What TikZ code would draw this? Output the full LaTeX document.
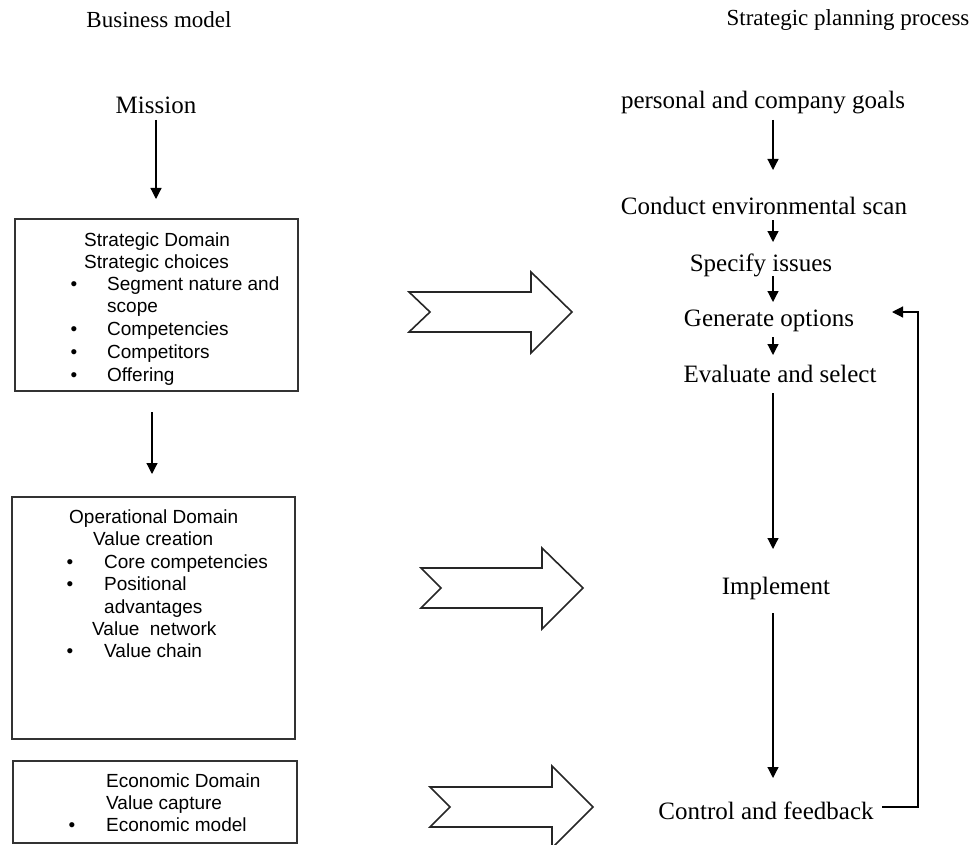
\documentclass[tikz,border=0pt]{standalone}
\usepackage{fontspec}
\setmainfont{Liberation Serif}
\newfontfamily\sansf{Liberation Sans}
\usetikzlibrary{arrows.meta}
\begin{document}
\begin{tikzpicture}[x=1pt,y=-1pt,
  serif/.style={font=\fontsize{25}{30}\selectfont, inner sep=0pt, outer sep=0pt, text height=20pt, text depth=2pt},
  headtxt/.style={font=\fontsize{23}{27}\selectfont, inner sep=0pt},
  sans/.style={font=\sansf\fontsize{19}{22}\selectfont, inner sep=0pt, anchor=base west},
  bul/.style={font=\sansf\fontsize{19}{22}\selectfont, inner sep=0pt, anchor=base},
  boxnode/.style={draw=black!80, line width=1.8pt, inner sep=0pt, outer sep=0pt, anchor=north west},
  arr/.style={line width=1.2pt, -{Triangle[length=11pt,width=11pt]}},
  bigarrow/.style={draw=black!85, line width=1.6pt, line join=miter, fill=white}
]
\useasboundingbox (0,0) rectangle (971,845);

% headings
\node[headtxt] (bm) at (159,20) {Business model};
\node[headtxt] (spp) at (848,20) {Strategic planning process};

% left column
\node[serif] (mis) at (156,105) {Mission};
\node[boxnode, minimum width=283pt, minimum height=172pt] (b1) at (15,219) {};
\node[boxnode, minimum width=283pt, minimum height=242pt] (b2) at (12,497) {};
\node[boxnode, minimum width=284pt, minimum height=82pt] (b3) at (13,761) {};

% box 1 text
\node[sans] (t11) at (84,246) {Strategic Domain};
\node[sans] (t12) at (84,268) {Strategic choices};
\node[bul]  (u13) at (74,290) {\textbullet};
\node[sans] (t13) at (107,290) {Segment nature and};
\node[sans] (t14) at (107,312.5) {scope};
\node[bul]  (u15) at (74,335) {\textbullet};
\node[sans] (t15) at (107,335) {Competencies};
\node[bul]  (u16) at (74,358) {\textbullet};
\node[sans] (t16) at (107,358) {Competitors};
\node[bul]  (u17) at (74,381) {\textbullet};
\node[sans] (t17) at (107,381) {Offering};

% box 2 text
\node[sans] (t21) at (69,523) {Operational Domain};
\node[sans] (t22) at (93,545) {Value creation};
\node[bul]  (u23) at (70,568) {\textbullet};
\node[sans] (t23) at (104,568) {Core competencies};
\node[bul]  (u24) at (70,590.5) {\textbullet};
\node[sans] (t24) at (104,590.5) {Positional};
\node[sans] (t25) at (104,613) {advantages};
\node[sans] (t26) at (92,635) {Value\ \ network};
\node[bul]  (u27) at (70,657) {\textbullet};
\node[sans] (t27) at (104,657) {Value chain};

% box 3 text
\node[sans] (t31) at (106,787) {Economic Domain};
\node[sans] (t32) at (106,809) {Value capture};
\node[bul]  (u33) at (72,831) {\textbullet};
\node[sans] (t33) at (106,831) {Economic model};

% left arrows
\coordinate (lx) at (152,0);
\draw[arr, shorten <=4pt, shorten >=20pt] (mis.south) -- (mis.south |- b1.north);
\draw[arr, shorten <=21pt, shorten >=23pt] (lx |- b1.south) -- (lx |- b2.north);

% big arrows
\draw[bigarrow] (409,292) -- (531,292) -- (531,272) -- (572,312) -- (531,353) -- (531,332) -- (409,332) -- (430,312) -- cycle;
\draw[bigarrow] (421,568) -- (542,568) -- (542,548) -- (583,588) -- (542,629) -- (542,608) -- (421,608) -- (441,588) -- cycle;
\draw[bigarrow] (430,787) -- (552,787) -- (552,766) -- (593,807) -- (552,848) -- (552,827) -- (430,827) -- (450,807) -- cycle;

% right column
\node[serif] (pg) at (763,100) {personal and company goals};
\node[serif] (ces) at (764,205) {Conduct environmental scan};
\node[serif] (si) at (761,262) {Specify issues};
\node[serif] (go) at (769,317) {Generate options};
\node[serif] (es) at (780,373) {Evaluate and select};
\node[serif] (im) at (776,585) {Implement};
\node[serif] (cf) at (766,810) {Control and feedback};

\coordinate (ax) at (773,0);
\draw[arr, shorten <=9pt, shorten >=24pt] (ax |- pg.south) -- (ax |- ces.north);
\draw[arr, shorten <=4pt, shorten >=9pt] (ax |- ces.south) -- (ax |- si.north);
\draw[arr, shorten <=3pt, shorten >=4pt] (ax |- si.south) -- (ax |- go.north);
\draw[arr, shorten <=9pt, shorten >=7pt] (ax |- go.south) -- (ax |- es.north);
\draw[arr, shorten <=9pt, shorten >=25pt] (ax |- es.south) -- (ax |- im.north);
\draw[arr, shorten <=17pt, shorten >=21pt] (ax |- im.south) -- (ax |- cf.north);

% feedback loop
\coordinate (f1) at (918,807);
\coordinate (f2) at (918,312);
\coordinate (f0) at (882,807);
\coordinate (f3) at (892,312);
\draw[arr] (f0) -- (f1) -- (f2) -- (f3);
\end{tikzpicture}
\end{document}
